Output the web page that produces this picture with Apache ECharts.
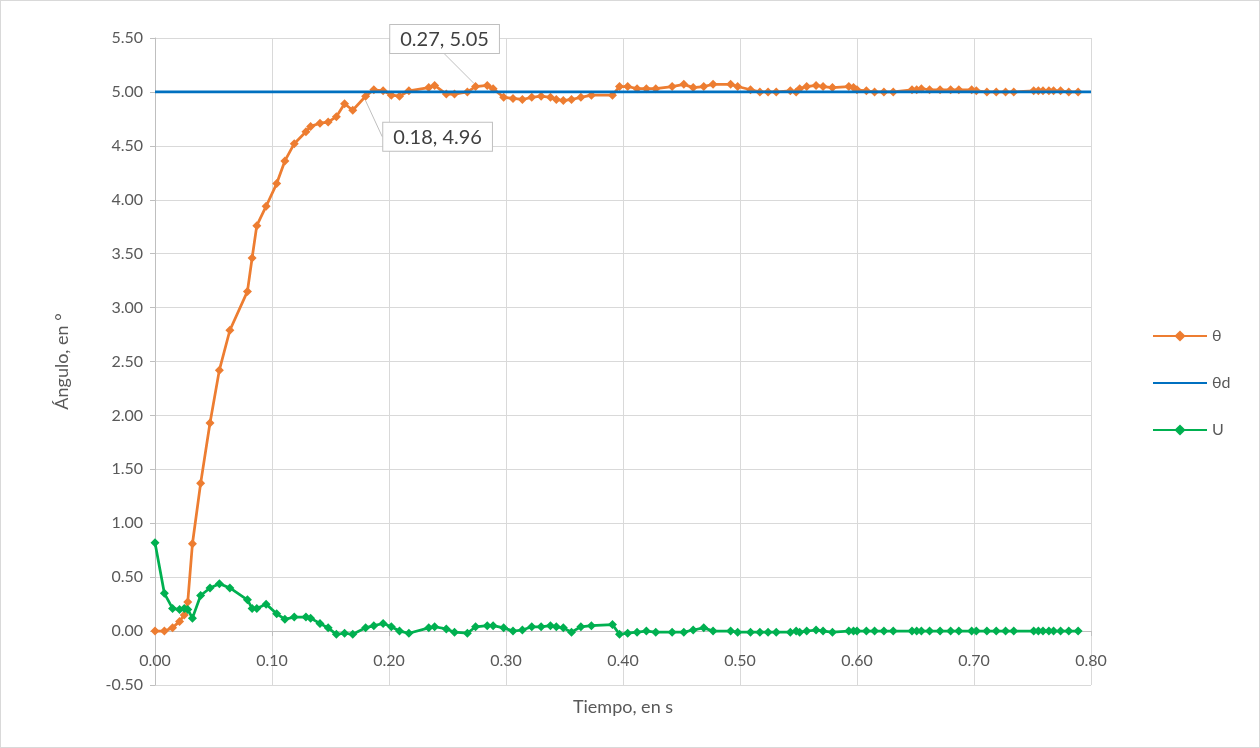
<!DOCTYPE html>
<html><head><meta charset="utf-8">
<script src="https://cdn.jsdelivr.net/npm/echarts@6/dist/echarts.min.js"></script>
<style>html,body{margin:0;padding:0;background:#fff;overflow:hidden}#c{width:1260px;height:748px;position:absolute;left:0;top:0}#b{position:absolute;left:0;top:0;width:1258px;height:746px;border:1px solid #d9d9d9;pointer-events:none}</style>
</head><body><div id="c"></div><div id="b"></div>
<script>
const time = [0, 0.008, 0.015, 0.021, 0.025, 0.028, 0.032, 0.039, 0.047, 0.055, 0.064, 0.079, 0.083, 0.087, 0.095, 0.104, 0.111, 0.119, 0.129, 0.133, 0.141, 0.148, 0.155, 0.162, 0.169, 0.180, 0.187, 0.195, 0.202, 0.209, 0.217, 0.234, 0.239, 0.249, 0.256, 0.267, 0.274, 0.284, 0.289, 0.298, 0.306, 0.314, 0.322, 0.330, 0.338, 0.343, 0.349, 0.356, 0.364, 0.373, 0.391, 0.397, 0.404, 0.412, 0.420, 0.428, 0.442, 0.452, 0.460, 0.469, 0.477, 0.492, 0.498, 0.509, 0.517, 0.524, 0.531, 0.543, 0.548, 0.551, 0.557, 0.565, 0.571, 0.579, 0.593, 0.597, 0.600, 0.608, 0.615, 0.623, 0.631, 0.647, 0.651, 0.655, 0.662, 0.671, 0.680, 0.687, 0.698, 0.702, 0.711, 0.719, 0.727, 0.734, 0.751, 0.755, 0.759, 0.764, 0.768, 0.774, 0.781, 0.789];
const theta = [0.00, 0.00, 0.03, 0.09, 0.15, 0.27, 0.81, 1.37, 1.93, 2.42, 2.79, 3.15, 3.46, 3.76, 3.94, 4.15, 4.36, 4.52, 4.63, 4.68, 4.71, 4.72, 4.77, 4.89, 4.83, 4.96, 5.02, 5.01, 4.97, 4.96, 5.01, 5.04, 5.06, 4.98, 4.98, 5.00, 5.05, 5.06, 5.03, 4.95, 4.94, 4.93, 4.95, 4.96, 4.95, 4.93, 4.92, 4.93, 4.95, 4.97, 4.97, 5.05, 5.05, 5.03, 5.03, 5.03, 5.05, 5.07, 5.04, 5.05, 5.07, 5.07, 5.05, 5.02, 5.00, 5.00, 5.00, 5.01, 5.00, 5.03, 5.05, 5.06, 5.05, 5.04, 5.05, 5.04, 5.02, 5.01, 5.00, 5.00, 5.00, 5.02, 5.02, 5.03, 5.02, 5.02, 5.02, 5.02, 5.02, 5.01, 5.00, 5.00, 5.00, 5.00, 5.01, 5.01, 5.01, 5.01, 5.01, 5.01, 5.00, 5.00];
const control = [0.82, 0.35, 0.21, 0.20, 0.21, 0.20, 0.12, 0.33, 0.40, 0.44, 0.40, 0.29, 0.21, 0.21, 0.25, 0.16, 0.11, 0.13, 0.13, 0.12, 0.07, 0.03, -0.03, -0.02, -0.03, 0.03, 0.05, 0.07, 0.04, 0.00, -0.02, 0.03, 0.04, 0.02, -0.01, -0.02, 0.04, 0.05, 0.05, 0.03, 0.00, 0.01, 0.04, 0.04, 0.05, 0.04, 0.03, -0.01, 0.04, 0.05, 0.06, -0.03, -0.02, -0.01, 0.00, -0.01, -0.01, -0.01, 0.01, 0.03, 0.00, 0.00, -0.01, -0.01, -0.01, -0.01, -0.01, -0.01, 0.00, -0.01, 0.00, 0.01, 0.00, -0.01, 0.00, 0.00, 0.00, 0.00, 0.00, 0.00, 0.00, 0.00, 0.00, 0.00, 0.00, 0.00, 0.00, 0.00, 0.00, 0.00, 0.00, 0.00, 0.00, 0.00, 0.00, 0.00, 0.00, 0.00, 0.00, 0.00, 0.00, 0.00];
const desiredTime = [0, 0.8];
const desired = [5.0, 5.0];
const labeledIdx = {25: [72, 64], 36: [-31, -24]};
const seriesNames = ['θ', 'θd', 'U'];

const chart = echarts.init(document.getElementById('c'), null, {renderer: 'canvas'});
const font = 'Lato, "Open Sans", sans-serif';
const thetaData = time.map((t, i) => {
  const item = {value: [t, theta[i]]};
  if (labeledIdx[i]) {
    item.label = {show: true};
    item.labelLine = {show: true};
  }
  return item;
});
chart.setOption({
  animation: false,
  textStyle: {fontFamily: font},
  grid: {left: 155, right: 169, top: 38, bottom: 63, outerBoundsMode: 'none', containLabel: false},
  legend: {
    orient: 'vertical', left: 1147, top: 323, itemWidth: 54, itemHeight: 14, itemGap: 31,
    textStyle: {fontSize: 16, color: '#595959', fontFamily: font},
    data: [
      {name: seriesNames[0]},
      {name: seriesNames[1], itemStyle: {opacity: 0}},
      {name: seriesNames[2]}
    ]
  },
  xAxis: {
    type: 'value', min: 0, max: 0.8, interval: 0.1, offset: -54,
    name: 'Tiempo, en s', nameLocation: 'middle', nameGap: 67,
    nameTextStyle: {fontSize: 18, color: '#595959'},
    axisLine: {onZero: false, lineStyle: {color: '#bfbfbf', width: 1}},
    axisTick: {show: true, length: 5, lineStyle: {color: '#bfbfbf'}},
    axisLabel: {fontSize: 16, color: '#595959', margin: 22, formatter: v => v.toFixed(2)},
    splitLine: {show: true, lineStyle: {color: '#d9d9d9', width: 1}}
  },
  yAxis: {
    type: 'value', min: -0.5, max: 5.5, interval: 0.5,
    name: 'Ángulo, en °', nameLocation: 'middle', nameGap: 84, nameRotate: 90,
    nameTextStyle: {fontSize: 18, color: '#595959'},
    axisLine: {show: true, lineStyle: {color: '#bfbfbf', width: 1}},
    axisTick: {show: true, length: 5, lineStyle: {color: '#bfbfbf'}},
    axisLabel: {fontSize: 16, color: '#595959', margin: 12, formatter: v => v.toFixed(2)},
    splitLine: {show: true, lineStyle: {color: '#d9d9d9', width: 1}}
  },
  series: [
    {
      name: 'θ', type: 'line', data: thetaData,
      symbol: 'diamond', symbolSize: 9, showAllSymbol: true,
      lineStyle: {color: '#ED7D31', width: 2.75}, itemStyle: {color: '#ED7D31'},
      label: {
        show: false, fontSize: 20, color: '#404040', fontFamily: font,
        backgroundColor: '#fff', borderColor: '#bfbfbf', borderWidth: 1,
        padding: [5, 10, 3, 10],
        formatter: p => p.value[0].toFixed(2) + ', ' + p.value[1].toFixed(2)
      },
      labelLine: {show: false, lineStyle: {color: '#bfbfbf', width: 1}},
      labelLayout: p => {
        const o = labeledIdx[p.dataIndex];
        if (!o) return {};
        return {dx: o[0], dy: o[1]};
      },
      z: 2
    },
    {
      name: 'θd', type: 'line', data: desiredTime.map((t, i) => [t, desired[i]]),
      symbol: 'none', lineStyle: {color: '#0070C0', width: 2.75}, itemStyle: {color: '#0070C0'}, z: 3
    },
    {
      name: 'U', type: 'line', data: time.map((t, i) => [t, control[i]]),
      symbol: 'diamond', symbolSize: 9, showAllSymbol: true,
      lineStyle: {color: '#00B050', width: 2.75}, itemStyle: {color: '#00B050'}, z: 4
    }
  ]
});
</script></body></html>
